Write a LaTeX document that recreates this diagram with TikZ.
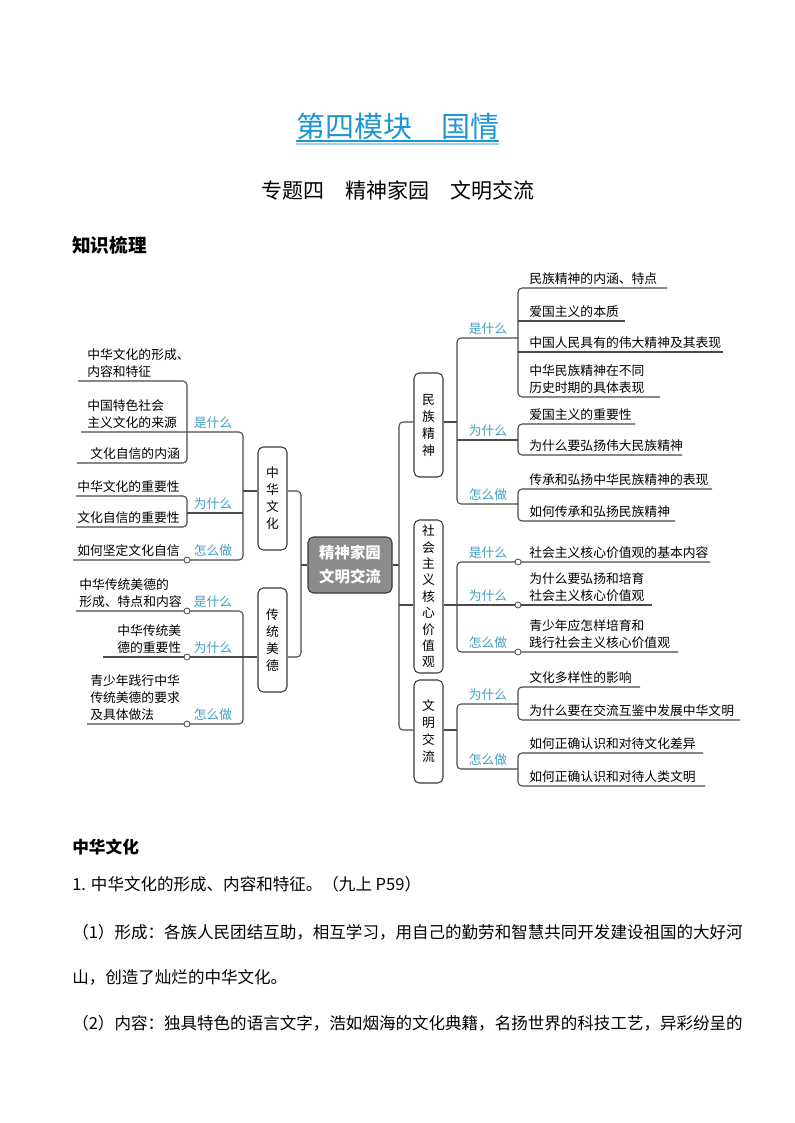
\documentclass[tikz,border=0pt]{standalone}
\usepackage{fontspec}
\setmainfont{Noto Sans CJK SC}
\definecolor{linec}{HTML}{4A4A4A}
\definecolor{boxc}{HTML}{3A3A3A}
\definecolor{labc}{HTML}{3F9EC2}
\definecolor{titlec}{HTML}{1E96D4}
\definecolor{titlel}{HTML}{9BD2EE}
\definecolor{hubfill}{HTML}{8C8C8C}
\newcommand{\leaffont}{\fontsize{9.6pt}{13pt}\selectfont}
\newcommand{\boxfont}{\fontsize{9.6pt}{12.75pt}\selectfont}
\tikzset{
  conn/.style={draw=linec, line width=0.8pt, rounded corners=3pt},
  leaf/.style={inner sep=0pt, anchor=south west, align=left, font=\leaffont},
  lab/.style={inner sep=0pt, anchor=south, text=labc, font=\leaffont},
  vbox/.style={draw=boxc, line width=0.8pt, rounded corners=4pt, fill=white,
    minimum width=21.75pt, inner sep=0pt, align=center, font=\boxfont},
  hub/.style={draw=boxc, line width=0.8pt, rounded corners=4pt, fill=hubfill,
    minimum width=63pt, minimum height=42pt, inner sep=0pt, align=center,
    text=white, font=\fontsize{11.6pt}{18pt}\selectfont\bfseries},
  jdot/.style={circle, draw=linec, fill=white, line width=0.6pt, inner sep=0pt, minimum size=4.5pt},
  bodytext/.style={inner sep=0pt, anchor=west, font=\fontsize{12.4pt}{15pt}\selectfont},
}
\begin{document}
\begin{tikzpicture}[x=0.75pt,y=-0.75pt]
\useasboundingbox (0,0) rectangle (794,1123);

% ---------- headings ----------
\node[inner sep=0pt, text=titlec, font=\fontsize{21.75pt}{24pt}\selectfont] (title) at (397.5,126) {第四模块　国情};
\draw[titlec, line width=1.2pt] (title.west |- 0,141) -- (title.east |- 0,141);
\draw[titlel, line width=0.9pt] (title.west |- 0,144) -- (title.east |- 0,144);
\node[inner sep=0pt, font=\fontsize{15.75pt}{18pt}\selectfont] (sub) at (397.5,190) {专题四　精神家园　文明交流};
\node[inner sep=0pt, anchor=west, font=\fontsize{14pt}{16pt}\selectfont\bfseries] (zs) at (72,245) {知识梳理};

% ---------- boxes ----------
\node[hub] (hub) at (350,565) {精神家园\\文明交流};
\node[vbox, minimum height=77.25pt] (zh) at (272.5,498.5) {中\\华\\文\\化};
\node[vbox, minimum height=78pt] (ct) at (272.5,640) {传\\统\\美\\德};
\node[vbox, minimum height=78pt] (mz) at (428.5,425) {民\\族\\精\\神};
\node[vbox, minimum height=114.75pt, font=\fontsize{9.6pt}{12.3pt}\selectfont] (sh) at (428.5,596.5) {社\\会\\主\\义\\核\\心\\价\\值\\观};
\node[vbox, minimum height=77.25pt] (wm) at (428.5,731.5) {文\\明\\交\\流};

% ---------- left side connectors ----------
\coordinate (jL) at (301,565);
\draw[conn] (hub.west) -- (jL);
\draw[conn] (zh.east |- 0,491) -- (301,491) -- (301,657) -- (ct.east |- 0,657);

\coordinate (zhJ) at (243,491);
\draw[conn] (zh.west |- 0,491) -- (zhJ);
\draw[conn] (81,432) -- (243,432) -- (243,560) -- (73,560);
\draw[conn] (187,513) -- (243,513);
\draw[conn] (78,381) -- (187,381) -- (187,463) -- (77,463);
\draw[conn] (76,496) -- (187,496) -- (187,527) -- (76,527);

\draw[conn] (76,611) -- (243,611) -- (243,724) -- (87,724);
\draw[conn] (ct.west |- 0,657) -- (103,657);

\node[jdot] (d1) at (187,560) {};
\node[jdot] (d2) at (187,611) {};
\node[jdot] (d3) at (187,657) {};
\node[jdot] (d4) at (187,724) {};

% ---------- right side connectors ----------
\coordinate (jR) at (399,565);
\draw[conn] (hub.east) -- (jR);
\draw[conn] (mz.west |- 0,422) -- (399,422) -- (399,730) -- (wm.west |- 0,730);
\draw[conn] (399,605) -- (sh.west |- 0,605);

\draw[conn] (mz.east |- 0,422) -- (457,422);
\draw[conn] (518,338) -- (457,338) -- (457,504) -- (518,504);
\draw[conn] (457,440) -- (518,440);
\draw[conn] (667,288) -- (518,288) -- (518,397) -- (660,397);
\draw[conn] (518,321) -- (625,321);
\draw[conn] (518,352) -- (723,352);
\draw[conn] (635,424) -- (518,424) -- (518,455) -- (682,455);
\draw[conn] (712,489) -- (518,489) -- (518,521) -- (675,521);

\draw[conn] (sh.east |- 0,605) -- (652,605);
\draw[conn] (710,562) -- (457,562) -- (457,652) -- (678,652);
\node[jdot] (d5) at (518,562) {};
\node[jdot] (d6) at (518,605) {};
\node[jdot] (d7) at (518,652) {};

\draw[conn] (wm.east |- 0,730) -- (457,730);
\draw[conn] (518,704) -- (457,704) -- (457,769) -- (518,769);
\draw[conn] (640,687) -- (518,687) -- (518,720) -- (740,720);
\draw[conn] (703,753) -- (518,753) -- (518,786) -- (705,786);

% ---------- labels ----------
\node[lab] (a1) at (213,429) {是什么};
\node[lab] (a2) at (213,510) {为什么};
\node[lab] (a3) at (213,557) {怎么做};
\node[lab] (a4) at (213,608) {是什么};
\node[lab] (a5) at (213,654) {为什么};
\node[lab] (a6) at (213,721) {怎么做};
\node[lab] (b1) at (488,335) {是什么};
\node[lab] (b2) at (488,437) {为什么};
\node[lab] (b3) at (488,501) {怎么做};
\node[lab] (b4) at (488,559) {是什么};
\node[lab] (b5) at (488,602) {为什么};
\node[lab] (b6) at (488,649) {怎么做};
\node[lab] (b7) at (488,701) {为什么};
\node[lab] (b8) at (488,766) {怎么做};

% ---------- left leaves ----------
\node[leaf] (L1) at (87,378) {中华文化的形成、\\内容和特征};
\node[leaf] (L2) at (87,429) {中国特色社会\\主义文化的来源};
\node[leaf] (L3) at (90,460) {文化自信的内涵};
\node[leaf] (L4) at (77,493) {中华文化的重要性};
\node[leaf] (L5) at (77,524) {文化自信的重要性};
\node[leaf] (L6) at (77,557) {如何坚定文化自信};
\node[leaf] (L7) at (79,608) {中华传统美德的\\形成、特点和内容};
\node[leaf] (L8) at (117,654) {中华传统美\\德的重要性};
\node[leaf] (L9) at (90,721) {青少年践行中华\\传统美德的要求\\及具体做法};

% ---------- right leaves ----------
\node[leaf] (R1) at (529,285) {民族精神的内涵、特点};
\node[leaf] (R2) at (529,318) {爱国主义的本质};
\node[leaf] (R3) at (529,349) {中国人民具有的伟大精神及其表现};
\node[leaf] (R4) at (529,394) {中华民族精神在不同\\历史时期的具体表现};
\node[leaf] (R5) at (529,421) {爱国主义的重要性};
\node[leaf] (R6) at (529,452) {为什么要弘扬伟大民族精神};
\node[leaf] (R7) at (529,486) {传承和弘扬中华民族精神的表现};
\node[leaf] (R8) at (529,518) {如何传承和弘扬民族精神};
\node[leaf] (R9) at (529,559) {社会主义核心价值观的基本内容};
\node[leaf] (R10) at (529,602) {为什么要弘扬和培育\\社会主义核心价值观};
\node[leaf] (R11) at (529,649) {青少年应怎样培育和\\践行社会主义核心价值观};
\node[leaf] (R12) at (529,684) {文化多样性的影响};
\node[leaf] (R13) at (529,717) {为什么要在交流互鉴中发展中华文明};
\node[leaf] (R14) at (529,750) {如何正确认识和对待文化差异};
\node[leaf] (R15) at (529,783) {如何正确认识和对待人类文明};

% ---------- body text ----------
\node[bodytext, font=\fontsize{12.5pt}{15pt}\selectfont\bfseries] (h1) at (72,847) {中华文化};
\node[bodytext] (p1) at (72,884) {1. 中华文化的形成、内容和特征。（九上 P59）};
\node[bodytext] (p2) at (72,932) {（1）形成：各族人民团结互助，相互学习，用自己的勤劳和智慧共同开发建设祖国的大好河};
\node[bodytext] (p3) at (72,977) {山，创造了灿烂的中华文化。};
\node[bodytext] (p4) at (72,1023) {（2）内容：独具特色的语言文字，浩如烟海的文化典籍，名扬世界的科技工艺，异彩纷呈的};
\end{tikzpicture}
\end{document}
